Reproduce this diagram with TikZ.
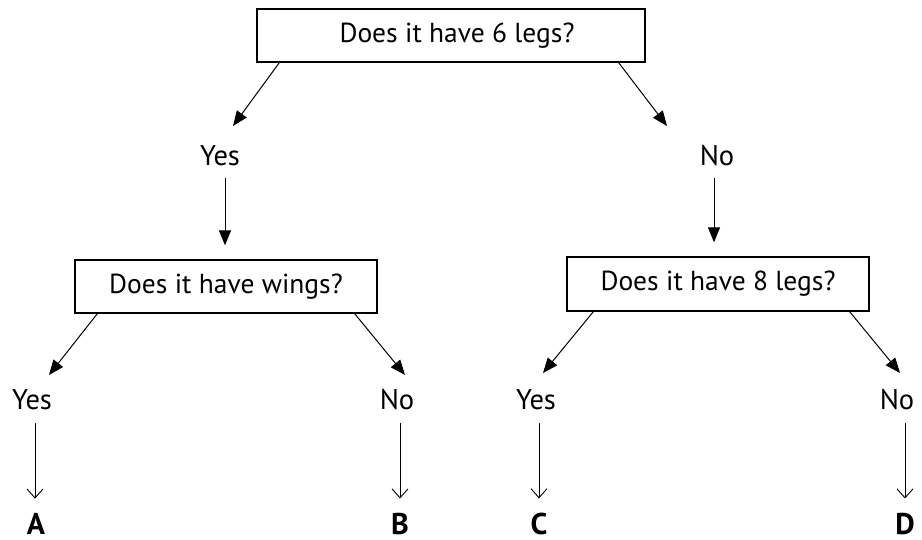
\documentclass[tikz,border=0pt]{standalone}
\usepackage{fontspec}
\setmainfont{PT Sans}
\usetikzlibrary{arrows.meta,calc}
\begin{document}
\begin{tikzpicture}[x=1pt,y=-1pt,
  qbox/.style={draw,line width=1.3pt,inner sep=0pt,font=\fontsize{27.5}{32}\selectfont},
  lbl/.style={inner sep=0pt,anchor=base,font=\fontsize{28.5}{32}\selectfont},
  leaf/.style={inner sep=0pt,anchor=base,font=\fontsize{30}{32}\selectfont\bfseries},
  big/.style={line width=1pt,-{Triangle[length=15pt,width=12pt]}},
  thin/.style={line width=0.9pt,-{Straight Barb[length=9pt,width=16pt,line width=0.9pt]}}]
\useasboundingbox (0,0) rectangle (922,539);
\node[qbox,minimum width=388pt,minimum height=53pt] (q1) at (451,35.5) {\hspace*{12pt}Does it have 6 legs?};
\node[lbl] (yes1) at (220,165) {Yes};
\node[lbl] (no1) at (717,165) {No};
\node[qbox,minimum width=302pt,minimum height=53pt] (q2) at (226,286.5) {Does it have wings?};
\node[qbox,minimum width=302pt,minimum height=54pt] (q3) at (718,284) {Does it have 8 legs?};
\node[lbl] (yes2) at (32,409) {Yes};
\node[lbl] (no2) at (397,409) {No};
\node[lbl] (yes3) at (536,409) {Yes};
\node[lbl] (no3) at (897,409) {No};
\node[leaf] (A) at (36,534) {A};
\node[leaf] (B) at (400,534) {B};
\node[leaf] (C) at (539,534) {C};
\node[leaf] (D) at (905,534) {D};
\draw[big] ($(q1.south west)+(23,0)$) -- ($(yes1.base)+(13,-39)$);
\draw[big] ($(q1.south east)+(-27,0)$) -- ($(no1.base)+(-50,-39)$);
\draw[big] ($(yes1.base)+(5,13)$) -- ($(q2.north)+(-1,-14)$);
\draw[big] ($(no1.base)+(-3,13)$) -- ($(q3.north)+(-4,-14)$);
\draw[big] ($(q2.south west)+(23,0)$) -- ($(yes2.base)+(17,-34)$);
\draw[big] ($(q2.south east)+(-23,0)$) -- ($(no2.base)+(8,-34)$);
\draw[big] ($(q3.south west)+(27,0)$) -- ($(yes3.base)+(7,-36)$);
\draw[big] ($(q3.south east)+(-20,0)$) -- ($(no3.base)+(3,-36)$);
\draw[thin] ($(yes2.base)+(3,14)$) -- ($(A.north)+(-1,-14)$);
\draw[thin] ($(no2.base)+(3,14)$) -- ($(B.north)+(0,-14)$);
\draw[thin] ($(yes3.base)+(3,14)$) -- ($(C.north)+(0,-14)$);
\draw[thin] ($(no3.base)+(8,14)$) -- ($(D.north)+(0,-14)$);
\end{tikzpicture}
\end{document}
